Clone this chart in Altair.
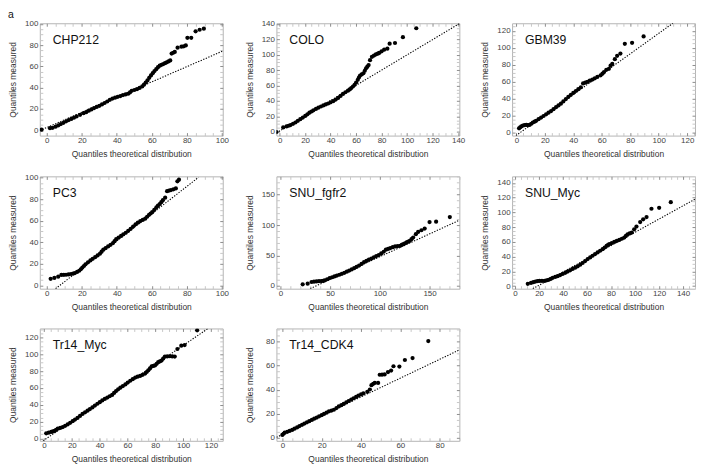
import altair as alt
import pandas as pd

FONT = "Liberation Sans"

PANEL_NAMES = ["CHP212", "COLO", "GBM39", "PC3", "SNU_fgfr2", "SNU_Myc", "Tr14_Myc", "Tr14_CDK4"]

# (theoretical quantile, measured quantile) pairs
CHP212 = [(-3, 0.5), (1.8, 2.0), (3.3, 2.3), (5, 3.4), (6.5, 4.5), (8, 5.8), (9.5, 7.0), (11, 8.4),
          (12.5, 9.6), (14, 10.6), (15.5, 11.8), (17, 13.0), (19, 14.5), (21, 16.0), (22.5, 17.0),
          (24, 18.4), (25.5, 19.6), (27, 20.8), (28.5, 21.9), (30, 23.0), (31.5, 24.3), (33, 25.6),
          (34.5, 27.0), (36, 28.6), (37.5, 29.8), (39, 30.6), (40.5, 31.4), (42, 32.1), (43.5, 33.0),
          (45, 33.6), (46.5, 34.3), (47.5, 35.5), (48.5, 37.0), (50, 37.8), (51.5, 38.6), (53, 39.8),
          (54.5, 41.2), (55.5, 42.8), (56.5, 44.8), (57.5, 46.8), (58.5, 49.2), (59.5, 51.5),
          (60.5, 53.6), (61.5, 55.6), (62.5, 57.4), (63.5, 59.2), (64.5, 60.6), (65.5, 61.5),
          (66.5, 62.2), (67.5, 63.0), (68.5, 63.8), (69.5, 64.6), (70.5, 65.6), (71.3, 72.0),
          (72.2, 72.8), (73.1, 73.6), (74.7, 77.6), (76.9, 78.5), (78.2, 78.8), (79.4, 79.7),
          (80.3, 86.8), (82.5, 86.8), (85, 92.9), (87.3, 94.4), (89.7, 95.4)]
COLO = [(-2.5, -0.5), (2.8, 5.6), (5.4, 6.9), (7, 7.8), (8.5, 8.6), (10.5, 10.3), (12.4, 12), (14.3, 14.2),
        (16.2, 16.3), (18.2, 18.4), (20.1, 20.5), (21.8, 22.6), (23.4, 24.8), (25, 26.3), (26.5, 27.8),
        (28.5, 29.6), (30.4, 31.2), (32.4, 32.8), (34.3, 34.2), (36.2, 35.5), (38.1, 36.7), (40, 38.2),
        (42, 39.7), (44, 41.8), (45.9, 44), (47.8, 46.5), (49.7, 49.1), (51.6, 51.3), (53.6, 53.4),
        (55, 55), (56.2, 56.8), (57.5, 58.8), (58.8, 61), (60, 64), (61.3, 67.5), (62.2, 70.5),
        (63.1, 73), (64.4, 74.5), (65.7, 76), (66.8, 79.2), (67.8, 82.4), (68.8, 84.5), (69.8, 86.7),
        (70.9, 93), (72.4, 97.3), (74, 99), (75.5, 100.4), (77, 101.5), (78.1, 102.4), (80, 104.5),
        (82, 106.7), (84.5, 108), (86.3, 114.4), (90.5, 115.3), (96.7, 122.9), (107.2, 134.5)]
GBM39 = [(1.9, 4.6), (2.7, 5.8), (3.5, 6.9), (4.6, 7.8), (5.8, 8.5), (7, 8.6), (8.1, 8.5), (9.3, 8.6),
         (10.5, 10), (11.6, 11.5), (12.8, 12.5), (13.9, 13.5), (15.6, 15.4), (17.4, 17.3), (19.1, 19.2),
         (20.9, 21.2), (22.6, 23.1), (24.4, 25), (26.1, 27.3), (27.9, 29.6), (29.6, 31.7), (31.3, 33.8),
         (33, 36.5), (34.8, 39.2), (36.5, 41.7), (38.3, 44.2), (40, 46.5), (41.8, 48.8), (43.5, 51),
         (45.3, 53.1), (46.9, 57.7), (48.4, 58.6), (49.9, 59.6), (51.6, 61), (53.4, 62.3), (55.1, 63.8),
         (56.9, 65.4), (59.2, 67.3), (60.5, 69.3), (61.6, 71.2), (63.2, 73.8), (65, 75), (66.2, 78.8),
         (67.4, 80.8), (69.2, 86.5), (70.8, 90.4), (73.1, 93.1), (76.2, 104.6), (81.3, 105.8), (89.4, 113.4)]
PC3 = [(2.2, 6.1), (4.3, 7), (6.5, 8.1), (8.3, 9.7), (9.7, 9.8), (11, 9.9), (12.4, 10.2), (13.8, 10.6),
       (15, 11), (16, 11.5), (17.3, 12.5), (18.5, 13.6), (19.4, 15), (20.3, 16.6), (21.2, 18), (22.1, 19.6),
       (23.5, 21.4), (24.9, 23.2), (26.2, 24.7), (27.6, 26.2), (29, 27.8), (30.4, 29.5), (31.3, 31.3),
       (32.3, 33.2), (33.6, 34.6), (35, 36.1), (36.4, 37.6), (37.8, 39.2), (38.7, 41), (39.6, 42.8),
       (41, 44.3), (42.4, 45.8), (43.7, 47.3), (45.1, 48.8), (46.5, 50.6), (47.9, 52.4), (49.3, 54.5),
       (50.7, 56.6), (52, 58.1), (53.4, 59.6), (54.8, 60.7), (56.2, 61.8), (57.3, 63.6), (58.4, 65.4),
       (59.3, 66.6), (60.2, 67.8), (61.4, 70), (62.6, 72.3), (63.5, 73.8), (64.5, 75.3), (65.4, 77.1),
       (66.3, 78.9), (67.6, 81.3), (68.7, 87.3), (69.8, 87.8), (70.9, 88.3), (72.3, 89), (73.7, 89.8),
       (74.6, 96.4), (75.5, 97.9)]
SNU_FGFR2 = [(22.4, 2.6), (27.4, 3.7), (31.3, 6.5), (33.8, 7), (36.3, 7.5), (38.8, 7.8), (41.2, 8.1),
             (43, 8.5), (44.5, 9.1), (47, 11), (49.5, 13), (52, 14.3), (54.4, 15.6), (56.8, 17), (59.3, 18.4),
             (61.8, 20), (64.3, 21.6), (66.8, 23.4), (69.2, 25.3), (71.7, 27.2), (74.2, 29.2), (76.6, 31.3),
             (79.1, 33.5), (81.6, 36.2), (84.1, 39), (86.5, 41.1), (89, 43.2), (91.5, 45.1), (94, 47.1),
             (96.4, 49), (98.9, 50.8), (101.4, 53.5), (103.9, 56.2), (106.1, 59.5), (108.3, 60.8),
             (110.5, 62.2), (113, 63.6), (115.4, 65), (118, 65.5), (120.4, 66), (122, 67.3), (123.6, 68.7),
             (125.3, 70.1), (126.9, 71.5), (128.5, 72.8), (130.2, 74.1), (131.8, 76.8), (133.5, 79.6),
             (136.2, 85), (138.5, 88.7), (141.8, 91.5), (145.1, 94.2), (150, 104.9), (156.6, 105.6),
             (170.4, 113.1)]
SNU_MYC = [(10.6, 3.1), (13.3, 4.4), (15.2, 5.3), (17, 6.2), (18.7, 6.8), (20.3, 7.1), (22.4, 7.1), (24.5, 7.1),
           (26.3, 7.8), (28, 8.5), (29.7, 9.8), (31.4, 11.2), (33.5, 12.4), (35.5, 13.5), (37.6, 15),
           (39.7, 16.6), (41.8, 18.1), (43.8, 19.7), (45.9, 21.5), (48, 23.3), (50.1, 25.1), (52.2, 26.9),
           (54.3, 29.1), (56.3, 31.4), (58.4, 34), (60.5, 36.7), (62.6, 39), (64.6, 41.2), (66.7, 43.5),
           (68.8, 45.8), (70.9, 48), (73, 50.2), (74.7, 52.4), (76.3, 54.6), (77.4, 55.8), (78.5, 56.9),
           (80.6, 58.5), (82.7, 60), (84.8, 61.4), (86.9, 62.7), (89, 64.3), (91, 65.9), (92.4, 68.1),
           (93.8, 70.4), (95.5, 71.5), (97.3, 72.7), (99.3, 77.1), (101.2, 80.8), (104.3, 86.9),
           (106.8, 90.6), (109.6, 93.7), (113.7, 105), (120.1, 106.3), (129.8, 113.9)]
TR14_MYC = [(1.6, 6.2), (3.4, 7), (5.2, 7.8), (6.4, 8.4), (7.6, 9), (8.7, 10.3), (9.9, 11.7), (11.7, 12.6),
            (13.5, 13.6), (15.2, 15.1), (17, 16.7), (18.8, 18.6), (20.6, 20.6), (22.3, 22.5), (24.1, 24.5),
            (25.9, 26.8), (27.7, 29.2), (29.5, 31.1), (31.3, 33.1), (33, 35), (34.8, 37), (36.6, 39.1),
            (38.4, 41.3), (40.1, 43.2), (41.9, 45.2), (43.7, 47), (45.5, 48.7), (47.2, 50.2), (49, 51.8),
            (50.4, 54.1), (51.8, 56.4), (53.3, 58.4), (54.9, 60.4), (56.7, 62.3), (58.5, 64.3), (60.2, 66.4),
            (62, 68.6), (63.8, 70.5), (65.6, 72.4), (67.3, 73.4), (69.1, 74.4), (70.9, 75.7), (72.7, 77.1),
            (73.8, 79), (75, 81), (76.2, 83.3), (77.4, 85.6), (78.6, 86.2), (79.8, 86.8), (81, 88.7),
            (82.1, 90.7), (83.3, 91.6), (84.5, 92.6), (85.7, 95), (86.9, 97.3), (88.6, 97.5), (90.4, 97.7),
            (92.2, 97.5), (94, 97.3), (95.9, 106.3), (98.7, 110.2), (101.1, 111), (110.1, 128.5)]
TR14_CDK4 = [(0, 2.2), (0.6, 3.2), (1.2, 4.1), (2.5, 4.8), (3.7, 5.5), (5, 6.4), (6.2, 7.4), (7.5, 8.5),
             (8.7, 9.6), (10, 10.6), (11.2, 11.7), (12.5, 12.7), (13.7, 13.7), (15, 14.7), (16.2, 15.8),
             (17.5, 16.7), (18.7, 17.7), (20, 18.7), (21.2, 19.7), (22.5, 20.8), (23.7, 21.9), (25, 22.5),
             (26.2, 23.2), (27.5, 24.6), (28.7, 26), (30, 27), (31.2, 28.1), (32.5, 29.3), (33.7, 30.5),
             (35, 31.6), (36.2, 32.8), (37.5, 33.9), (38.7, 35), (40, 36), (41.2, 36.9), (43.2, 38.2),
             (44.5, 40.1), (45.3, 43.7), (46.2, 44.8), (47, 45.6), (48.7, 45.6), (49.5, 52.4), (50.7, 52.5),
             (52, 52.7), (53.7, 54.6), (55.3, 55.9), (56.5, 59.5), (59.5, 59.2), (62.3, 64.7), (66.2, 66.3),
             (74.2, 80.5)]
POINTS = [CHP212, COLO, GBM39, PC3, SNU_FGFR2, SNU_MYC, TR14_MYC, TR14_CDK4]

# reference (dotted) line end points per panel
REF_LINES = [[(-4, -0.3), (100.5, 74.4)],
             [(-2.5, -1.5), (141, 140.5)],
             [(-0.3, -4), (110, 129)],
             [(5, -3), (86.6, 100)],
             [(30, -4.3), (180, 107.9)],
             [(14.8, -3.5), (150, 118)],
             [(-0.7, -2.7), (118, 130.7)],
             [(-3, 0.2), (90, 73.1)]]

X_DOMAINS = [[-4, 100.5], [-2.5, 141], [-3, 125.5], [-4, 100.5], [-4, 180], [-2.5, 150], [-3, 128.5], [-3, 90]]
Y_DOMAINS = [[-5, 100.5], [-5, 141], [-4, 129], [-3, 101], [-4.5, 180], [-3.5, 149], [-2.7, 130.7], [-2.7, 91]]
X_MAJOR = [20, 20, 20, 20, 50, 20, 20, 20]
Y_MAJOR = [20, 20, 20, 20, 50, 20, 20, 20]

W, H = 184, 113


def tick_values(dom, major):
    step = 10 if major == 50 else 5
    return [v for v in range(0, int(dom[1]) + 1, step)]


def tick_color(major):
    return {"condition": {"test": f"datum.value % {major} === 0", "value": "#8c8c8c"}, "value": "#c8c8c8"}


def main_axis(orient, dom, major, title, pad, tpad, ext):
    return alt.Axis(
        orient=orient, values=tick_values(dom, major),
        labelExpr=f"datum.value % {major} === 0 ? datum.label : ''",
        offset=-3, tickSize=3, domain=False, grid=False, tickColor=tick_color(major),
        labelFont=FONT, labelFontSize=8, labelColor="#444", labelPadding=pad,
        labelFlush=False, labelOverlap=False,
        title=title, titleFont=FONT, titleFontSize=8.5, titleFontWeight="normal",
        titleColor="#333", titlePadding=tpad, minExtent=ext, maxExtent=ext)


def frame_axis(orient, dom, major):
    return alt.Axis(orient=orient, values=tick_values(dom, major), labels=False, title=None,
                    offset=-3, tickSize=3, domain=False, grid=False, tickColor=tick_color(major))


panels = []
for i, name in enumerate(PANEL_NAMES):
    xs = alt.Scale(domain=X_DOMAINS[i], nice=False, zero=False)
    ys = alt.Scale(domain=Y_DOMAINS[i], nice=False, zero=False)
    pts = pd.DataFrame(POINTS[i], columns=["x", "y"])
    ref = pd.DataFrame(REF_LINES[i], columns=["x", "y"])
    line = alt.Chart(ref).mark_line(color="black", strokeWidth=1.1, strokeDash=[1.3, 1.5], clip=True).encode(
        x=alt.X("x:Q", scale=xs, axis=frame_axis("top", X_DOMAINS[i], X_MAJOR[i])),
        y=alt.Y("y:Q", scale=ys, axis=frame_axis("right", Y_DOMAINS[i], Y_MAJOR[i])),
    )
    dots = alt.Chart(pts).mark_circle(size=18, color="black", opacity=1, clip=True).encode(
        x=alt.X("x:Q", scale=xs, axis=main_axis("bottom", X_DOMAINS[i], X_MAJOR[i],
                                                  "Quantiles theoretical distribution", 1, 5, 12)),
        y=alt.Y("y:Q", scale=ys, axis=main_axis("left", Y_DOMAINS[i], Y_MAJOR[i],
                                                  "Quantiles measured", 2, 7, 18.5)),
    )
    label = alt.Chart(pd.DataFrame({"name": [name]})).mark_text(
        align="left", baseline="middle", font=FONT, fontSize=12.3, color="#111"
    ).encode(x=alt.value(13), y=alt.value(17), text="name:N")
    panel = alt.layer(line, dots, label).resolve_axis(x="independent", y="independent").properties(
        width=W, height=H)
    panels.append(panel)

chart = alt.concat(*panels, columns=3, spacing={"row": 13, "column": 15}).properties(
    title=alt.TitleParams("a", anchor="start", fontSize=10.5, font=FONT, fontWeight="normal",
                          color="#111", offset=-1),
    padding={"left": 0, "top": 0, "right": 0, "bottom": 0},
).configure_view(stroke="#b4b4b4", strokeWidth=1)

chart.save("out.html", embed_options={"renderer": "svg", "actions": False})
